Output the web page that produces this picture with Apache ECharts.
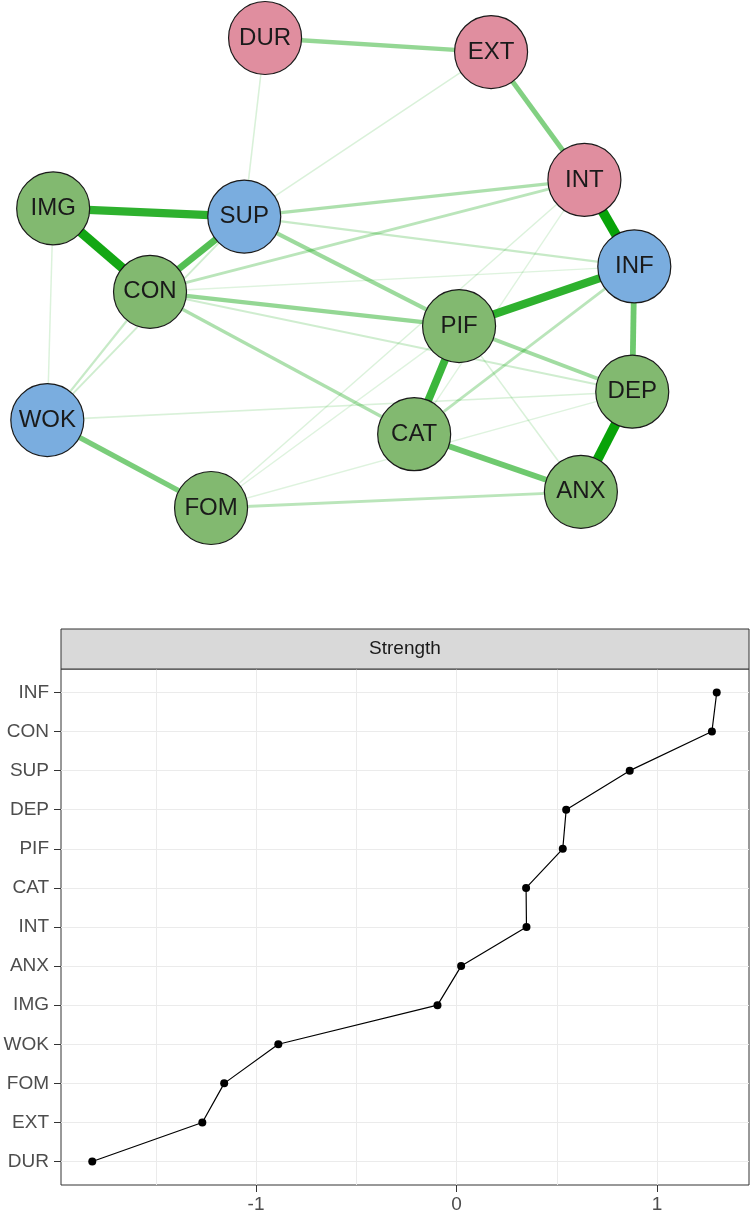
<!DOCTYPE html>
<html>
<head>
<meta charset="utf-8">
<script src="https://cdn.jsdelivr.net/npm/echarts@6/dist/echarts.min.js"></script>
<style>
html, body { margin: 0; padding: 0; background: #fff; }
#chart { width: 751px; height: 1215px; }
</style>
</head>
<body>
<div id="chart"></div>
<script>
// network nodes (layout coords, -1..1)
var nodeNames = ['DUR', 'EXT', 'INT', 'INF', 'SUP', 'IMG', 'CON', 'WOK', 'FOM', 'PIF', 'CAT', 'DEP', 'ANX'];
var nodeX = [-0.258, 0.512, 0.830, 1.000, -0.329, -0.980, -0.650, -1.000, -0.442, 0.403, 0.250, 0.993, 0.818];
var nodeY = [1.000, 0.940, 0.396, 0.028, 0.240, 0.275, -0.080, -0.626, -1.000, -0.226, -0.686, -0.505, -0.931];
var nodeGroup = ['pink', 'pink', 'pink', 'blue', 'blue', 'green', 'green', 'blue', 'green', 'green', 'green', 'green', 'green'];

// edges: [from, to, weight]
var edgeList = [
  ['DUR', 'SUP', 0.08], ['EXT', 'SUP', 0.08], ['IMG', 'WOK', 0.07], ['FOM', 'INT', 0.07],
  ['FOM', 'PIF', 0.06], ['FOM', 'DEP', 0.06], ['INT', 'CAT', 0.06], ['CON', 'INF', 0.06],
  ['WOK', 'DEP', 0.08], ['PIF', 'ANX', 0.08], ['SUP', 'WOK', 0.12], ['CON', 'DEP', 0.12],
  ['CON', 'WOK', 0.15], ['SUP', 'INF', 0.15], ['CON', 'INT', 0.20], ['FOM', 'ANX', 0.20],
  ['CAT', 'INF', 0.20], ['SUP', 'INT', 0.25], ['CON', 'CAT', 0.25], ['PIF', 'DEP', 0.30],
  ['SUP', 'PIF', 0.32], ['CON', 'PIF', 0.35], ['DUR', 'EXT', 0.35], ['EXT', 'INT', 0.42],
  ['WOK', 'FOM', 0.45], ['CAT', 'ANX', 0.50], ['INF', 'DEP', 0.50], ['CON', 'SUP', 0.60],
  ['PIF', 'CAT', 0.70], ['INF', 'PIF', 0.75], ['IMG', 'SUP', 0.75], ['IMG', 'CON', 0.85],
  ['DEP', 'ANX', 0.90], ['INT', 'INF', 0.90]
];

// strength centrality (bottom to top)
var categories = ['DUR', 'EXT', 'FOM', 'WOK', 'IMG', 'ANX', 'INT', 'CAT', 'PIF', 'DEP', 'SUP', 'CON', 'INF'];
var strength = [-1.817, -1.268, -1.159, -0.889, -0.095, 0.023, 0.349, 0.347, 0.530, 0.547, 0.864, 1.274, 1.298];
var xTickLabels = [-1, 0, 1];
var xGridValues = [-1.5, -1, -0.5, 0, 0.5, 1];

var groupColors = { pink: '#E08E9F', blue: '#7AADDF', green: '#82B970' };
var fontFam = "'Liberation Sans', Arial, sans-serif";

var myChart = echarts.init(document.getElementById('chart'));

var nodes = nodeNames.map(function (n, i) {
  return { name: n, value: [nodeX[i], nodeY[i]], itemStyle: { color: groupColors[nodeGroup[i]] } };
});
var links = edgeList.map(function (e) {
  var a = Math.min(1, e[2] + 0.07);
  return {
    source: e[0], target: e[1],
    lineStyle: { width: 0.8 + 10 * e[2], color: 'rgba(0,160,0,' + a + ')', opacity: 1, curveness: 0 }
  };
});
var yIdx = categories.map(function (c, i) { return i; });
var lineData = strength.map(function (v, i) { return [v, i]; });

var option = {
  backgroundColor: '#ffffff',
  animation: false,
  textStyle: { fontFamily: fontFam },
  grid: [
    { left: 47.3, top: 38, width: 587, height: 470, show: false },
    { left: 61, top: 669, right: 2, bottom: 30, show: true, borderColor: '#333333', borderWidth: 1, backgroundColor: 'transparent' }
  ],
  xAxis: [
    { gridIndex: 0, type: 'value', min: -1, max: 1, show: false },
    {
      gridIndex: 1, type: 'value', min: -1.973, max: 1.459, position: 'bottom',
      axisLine: { show: false, onZero: false },
      axisTick: { show: true, customValues: xTickLabels, length: 7, lineStyle: { color: '#333333' } },
      axisLabel: { customValues: xTickLabels, color: '#4D4D4D', fontSize: 19, margin: 10, fontFamily: fontFam },
      splitLine: { show: false }
    },
    {
      gridIndex: 1, type: 'value', min: -1.973, max: 1.459, position: 'bottom',
      axisLine: { show: false, onZero: false },
      axisTick: { show: false, customValues: xGridValues },
      axisLabel: { show: false },
      splitLine: { show: true, lineStyle: { color: '#EBEBEB', width: 1 } }
    }
  ],
  yAxis: [
    { gridIndex: 0, type: 'value', min: -1, max: 1, show: false },
    {
      gridIndex: 1, type: 'value', min: -0.6, max: 12.6, position: 'left',
      axisLine: { show: false, onZero: false },
      axisTick: { show: true, customValues: yIdx, length: 7, lineStyle: { color: '#333333' } },
      axisLabel: {
        customValues: yIdx, color: '#4D4D4D', fontSize: 19, margin: 12, fontFamily: fontFam,
        formatter: function (v) { return categories[Math.round(v)]; }
      },
      splitLine: { show: true, lineStyle: { color: '#EBEBEB', width: 1 } }
    }
  ],
  graphic: [
    {
      type: 'rect', shape: { x: 61, y: 629, width: 688, height: 40 },
      style: { fill: '#D9D9D9', stroke: '#333333', lineWidth: 1 }, z: 10
    },
    {
      type: 'text', x: 405, y: 649, z: 11,
      style: { text: 'Strength', fill: '#1A1A1A', fontSize: 19, fontFamily: fontFam, align: 'center', verticalAlign: 'middle' }
    }
  ],
  series: [
    {
      type: 'graph',
      coordinateSystem: 'cartesian2d',
      xAxisIndex: 0, yAxisIndex: 0,
      symbol: 'circle',
      symbolSize: 73,
      data: nodes,
      links: links,
      itemStyle: { borderColor: '#1A1A1A', borderWidth: 1.2 },
      label: { show: true, position: 'inside', fontSize: 24, color: '#1A1A1A', fontFamily: fontFam },
      emphasis: { disabled: true }
    },
    {
      type: 'line',
      xAxisIndex: 1, yAxisIndex: 1,
      data: lineData,
      symbol: 'circle',
      symbolSize: 8,
      itemStyle: { color: '#000000' },
      lineStyle: { color: '#000000', width: 1.2 },
      z: 5
    }
  ]
};
myChart.setOption(option);
</script>
</body>
</html>
